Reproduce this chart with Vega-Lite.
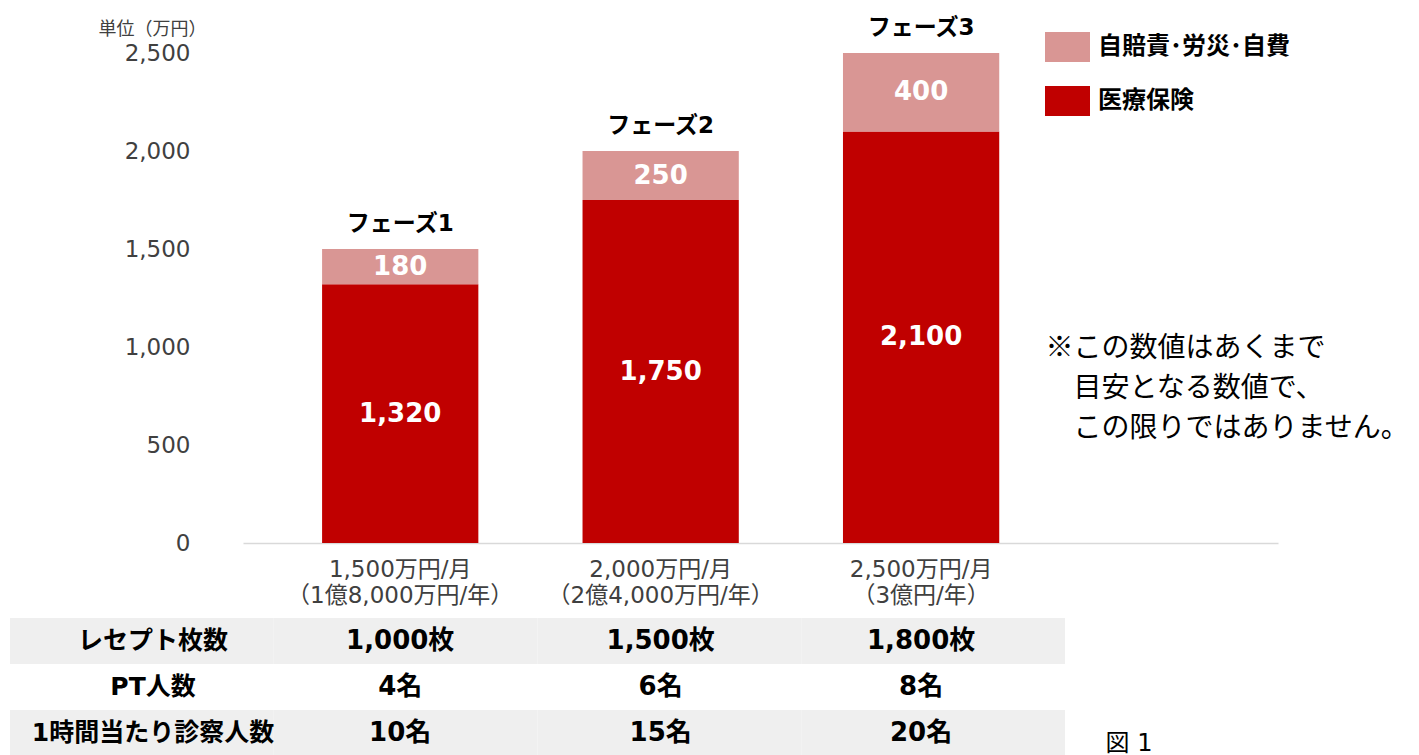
{
  "$schema": "https://vega.github.io/schema/vega-lite/v6.json",
  "width": 1035,
  "height": 490,
  "autosize": {"type": "none"},
  "padding": {"left": 243, "top": 53, "right": 141, "bottom": 212},
  "background": "white",
  "config": {
    "font": "DejaVu Sans, Noto Sans CJK JP",
    "view": {"stroke": null},
    "axis": {"grid": false}
  },
  "datasets": {
    "bars": [
      {"phase": "フェーズ1", "revenue": "1,500万円/月|（1億8,000万円/年）", "type": "医療保険", "value": 1320},
      {"phase": "フェーズ1", "revenue": "1,500万円/月|（1億8,000万円/年）", "type": "自賠責･労災･自費", "value": 180},
      {"phase": "フェーズ2", "revenue": "2,000万円/月|（2億4,000万円/年）", "type": "医療保険", "value": 1750},
      {"phase": "フェーズ2", "revenue": "2,000万円/月|（2億4,000万円/年）", "type": "自賠責･労災･自費", "value": 250},
      {"phase": "フェーズ3", "revenue": "2,500万円/月|（3億円/年）", "type": "医療保険", "value": 2100},
      {"phase": "フェーズ3", "revenue": "2,500万円/月|（3億円/年）", "type": "自賠責･労災･自費", "value": 400}
    ],
    "table": [
      {"row": "レセプト枚数", "col": "項目", "text": "レセプト枚数"},
      {"row": "レセプト枚数", "col": "フェーズ1", "text": "1,000枚"},
      {"row": "レセプト枚数", "col": "フェーズ2", "text": "1,500枚"},
      {"row": "レセプト枚数", "col": "フェーズ3", "text": "1,800枚"},
      {"row": "PT人数", "col": "項目", "text": "PT人数"},
      {"row": "PT人数", "col": "フェーズ1", "text": "4名"},
      {"row": "PT人数", "col": "フェーズ2", "text": "6名"},
      {"row": "PT人数", "col": "フェーズ3", "text": "8名"},
      {"row": "1時間当たり診察人数", "col": "項目", "text": "1時間当たり診察人数"},
      {"row": "1時間当たり診察人数", "col": "フェーズ1", "text": "10名"},
      {"row": "1時間当たり診察人数", "col": "フェーズ2", "text": "15名"},
      {"row": "1時間当たり診察人数", "col": "フェーズ3", "text": "20名"}
    ]
  },
  "layer": [
    {
      "data": {"name": "bars"},
      "transform": [
        {"stack": "value", "groupby": ["revenue"], "sort": [{"field": "type", "order": "ascending"}], "as": ["v0", "v1"]}
      ],
      "mark": {"type": "bar"},
      "encoding": {
        "x": {
          "field": "revenue", "type": "nominal", "sort": null,
          "scale": {"type": "band", "paddingInner": 0.4, "paddingOuter": 0.687, "align": 0.221},
          "axis": {
            "orient": "bottom",
            "labelExpr": "split(datum.label, '|')",
            "labelFontSize": 23,
            "labelColor": "#404040",
            "labelPadding": 15,
            "labelLineHeight": 26,
            "labelBaseline": "top",
            "labelLimit": 400,
            "labelAngle": 0,
            "labelOverlap": false,
            "ticks": false,
            "domainColor": "#d9d9d9",
            "domainWidth": 1.5,
            "title": ["※この数値はあくまで", "\u200b\u3000目安となる数値で、", "\u200b\u3000この限りではありません。"],
            "titleX": 802,
            "titleY": -187,
            "titleAlign": "left",
            "titleAngle": 0,
            "titleBaseline": "alphabetic",
            "titleFont": "Noto Sans CJK JP",
            "titleFontSize": 28,
            "titleFontWeight": "normal",
            "titleColor": "#000000",
            "titleLineHeight": 40,
            "titleLimit": 1000
          }
        },
        "y": {
          "field": "v1", "type": "quantitative",
          "scale": {"domain": [0, 2500], "nice": false},
          "axis": {
            "orient": "left",
            "values": [0, 500, 1000, 1500, 2000, 2500],
            "labelExpr": "format(datum.value, ',.0f')",
            "ticks": false,
            "domain": false,
            "labelFontSize": 23,
            "labelColor": "#404040",
            "labelPadding": 53,
            "title": "単位（万円）",
            "titleX": -145,
            "titleY": -24,
            "titleAngle": 0,
            "titleAlign": "left",
            "titleBaseline": "middle",
            "titleFontSize": 18,
            "titleFontWeight": "normal",
            "titleColor": "#404040"
          }
        },
        "y2": {"field": "v0"},
        "color": {
          "field": "type", "type": "nominal",
          "scale": {"domain": ["自賠責･労災･自費", "医療保険"], "range": ["#D99694", "#C00000"]},
          "legend": {
            "orient": "none",
            "legendX": 802,
            "legendY": -28.5,
            "title": null,
            "padding": 0,
            "symbolType": "M-1,-0.667H1V0.667H-1Z",
            "symbolSize": 2025,
            "symbolStrokeWidth": 0,
            "symbolOpacity": 1,
            "labelFontSize": 24,
            "labelFontWeight": "bold",
            "labelColor": "#000000",
            "labelOffset": 8,
            "labelLimit": 400,
            "rowPadding": 16
          }
        }
      }
    },
    {
      "data": {"name": "bars"},
      "transform": [
        {"stack": "value", "groupby": ["revenue"], "sort": [{"field": "type", "order": "ascending"}], "as": ["v0", "v1"]},
        {"calculate": "(datum.v0 + datum.v1) / 2", "as": "mid"}
      ],
      "mark": {"type": "text", "color": "white", "fontWeight": "bold", "fontSize": 26, "baseline": "middle", "font": "DejaVu Sans"},
      "encoding": {
        "x": {"field": "revenue", "type": "nominal", "sort": null, "scale": {"type": "band", "paddingInner": 0.4, "paddingOuter": 0.687, "align": 0.221}, "axis": null},
        "y": {"field": "mid", "type": "quantitative", "scale": {"domain": [0, 2500], "nice": false}, "axis": null},
        "text": {"field": "value", "type": "quantitative", "format": ","}
      }
    },
    {
      "data": {"name": "bars"},
      "transform": [
        {"stack": "value", "groupby": ["revenue"], "sort": [{"field": "type", "order": "ascending"}], "as": ["v0", "v1"]},
        {"filter": "datum.type == '自賠責･労災･自費'"}
      ],
      "mark": {"type": "text", "color": "#000000", "fontWeight": "bold", "fontSize": 23, "baseline": "middle", "dy": -25},
      "encoding": {
        "x": {"field": "revenue", "type": "nominal", "sort": null, "scale": {"type": "band", "paddingInner": 0.4, "paddingOuter": 0.687, "align": 0.221}, "axis": null},
        "y": {"field": "v1", "type": "quantitative", "scale": {"domain": [0, 2500], "nice": false}, "axis": null},
        "text": {"field": "phase", "type": "nominal"}
      }
    },
    {
      "data": {"name": "table"},
      "mark": {"type": "rect"},
      "encoding": {
        "x": {
          "field": "col", "type": "nominal",
          "scale": {"type": "band", "domain": ["項目", "フェーズ1", "フェーズ2", "フェーズ3"], "range": [-233, 822], "paddingInner": 0, "paddingOuter": 0},
          "axis": {
            "orient": "bottom",
            "labels": false, "ticks": false, "domain": false,
            "title": "図 1",
            "titleX": 862,
            "titleY": 207,
            "titleAlign": "left",
            "titleAngle": 0,
            "titleBaseline": "alphabetic",
            "titleFontSize": 24,
            "titleFontWeight": "normal",
            "titleColor": "#000000"
          }
        },
        "y": {
          "field": "row", "type": "nominal",
          "scale": {"type": "band", "domain": ["レセプト枚数", "PT人数", "1時間当たり診察人数"], "range": [565, 703], "paddingInner": 0, "paddingOuter": 0},
          "axis": null
        },
        "fill": {
          "field": "row", "type": "nominal",
          "scale": {"domain": ["レセプト枚数", "PT人数", "1時間当たり診察人数"], "range": ["#efefef", "#ffffff", "#efefef"]},
          "legend": null
        }
      }
    },
    {
      "data": {"name": "table"},
      "transform": [{"filter": "datum.col == '項目'"}],
      "mark": {"type": "text", "color": "#000000", "fontWeight": "bold", "fontSize": 25, "baseline": "middle"},
      "encoding": {
        "x": {"field": "col", "type": "nominal", "scale": {"type": "band", "domain": ["項目"], "range": [-140, -40], "paddingInner": 0, "paddingOuter": 0}, "axis": null},
        "y": {"field": "row", "type": "nominal", "scale": {"type": "band", "domain": ["レセプト枚数", "PT人数", "1時間当たり診察人数"], "range": [565, 703], "paddingInner": 0, "paddingOuter": 0}, "axis": null},
        "text": {"field": "text", "type": "nominal"}
      }
    },
    {
      "data": {"name": "table"},
      "transform": [{"filter": "datum.col != '項目'"}],
      "mark": {"type": "text", "color": "#000000", "fontWeight": "bold", "fontSize": 26, "baseline": "middle"},
      "encoding": {
        "x": {"field": "col", "type": "nominal", "scale": {"type": "band", "domain": ["フェーズ1", "フェーズ2", "フェーズ3"], "paddingInner": 0.4, "paddingOuter": 0.687, "align": 0.221}, "axis": null},
        "y": {"field": "row", "type": "nominal", "scale": {"type": "band", "domain": ["レセプト枚数", "PT人数", "1時間当たり診察人数"], "range": [565, 703], "paddingInner": 0, "paddingOuter": 0}, "axis": null},
        "text": {"field": "text", "type": "nominal"}
      }
    }
  ],
  "resolve": {
    "scale": {"x": "independent", "y": "independent"},
    "axis": {"x": "independent", "y": "independent"}
  }
}
